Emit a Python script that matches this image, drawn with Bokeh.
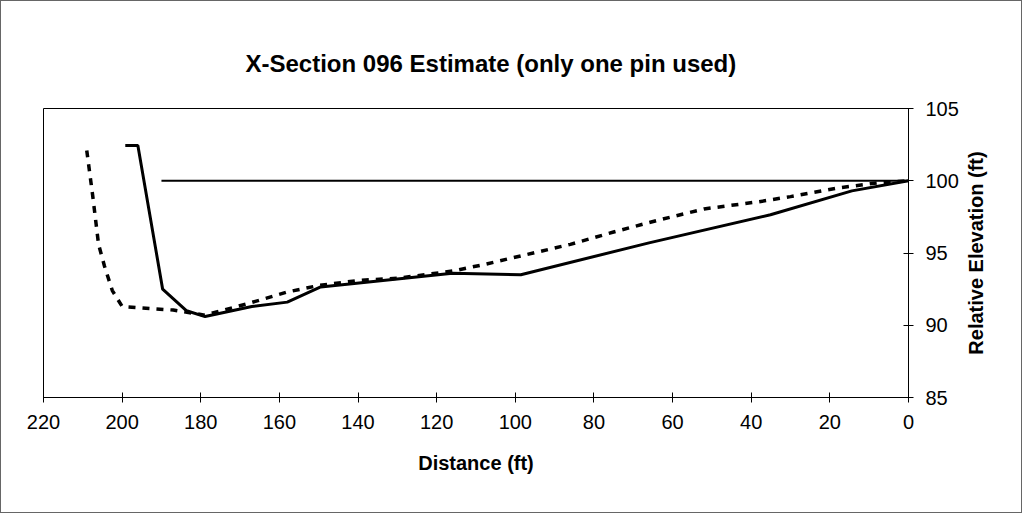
from bokeh.plotting import figure
from bokeh.layouts import row
from bokeh.models import Range1d, FixedTicker
from bokeh.embed import file_html
from bokeh.resources import INLINE

# ---- data ----
solid_dist = [199.2, 196.0, 189.7, 183.6, 178.9, 167.0, 158.0, 149.5, 116.0, 98.6, 66.0, 35.1, 14.4, 0.0]
solid_elev = [102.44, 102.44, 92.5, 91.0, 90.6, 91.3, 91.6, 92.65, 93.6, 93.5, 95.7, 97.65, 99.3, 100.0]

dash_dist = [209.0, 207.5, 206.0, 204.5, 202.5, 200.0, 187.0, 179.0, 168.0, 158.0, 150.0, 140.0,
             130.0, 116.0, 108.0, 97.0, 86.0, 75.0, 64.0, 52.0, 38.0, 30.0, 18.0, 8.0, 0.0]
dash_elev = [102.1, 99.0, 95.6, 94.1, 92.4, 91.3, 91.05, 90.7, 91.5, 92.3, 92.75, 93.1,
             93.25, 93.75, 94.2, 94.9, 95.6, 96.45, 97.25, 98.05, 98.55, 98.9, 99.5, 99.85, 100.0]

ref_dist = [190.0, 0.0]
ref_elev = [100.0, 100.0]

x_ticks = [220, 200, 180, 160, 140, 120, 100, 80, 60, 40, 20, 0]
y_ticks = [85, 90, 95, 100, 105]

title_text = "X-Section 096 Estimate (only one pin used)"
x_label = "Distance (ft)"
y_label = "Relative Elevation (ft)"

FONT = "Liberation Sans"

p = figure(width=960, height=511, output_backend="svg", toolbar_location=None,
           x_range=Range1d(220, 0), y_range=Range1d(85, 105),
           y_axis_location="right",
           min_border_left=42, min_border_right=51, min_border_top=107, min_border_bottom=115)

p.background_fill_color = "white"
p.border_fill_color = "white"
p.outline_line_color = "black"
p.outline_line_width = 1
p.xgrid.visible = False
p.ygrid.visible = False

p.title.text = title_text
p.title.text_font = FONT
p.title.text_font_size = "24px"
p.title.text_font_style = "bold"
p.title.text_color = "black"
p.title.align = "left"
p.title.offset = 202
p.title.standoff = 64

p.line(ref_dist, ref_elev, line_color="black", line_width=2)
p.line(solid_dist, solid_elev, line_color="black", line_width=3)
p.line(dash_dist, dash_elev, line_color="black", line_width=3.5, line_dash="7 7")

for ax in (p.xaxis[0], p.yaxis[0]):
    ax.axis_line_color = "black"
    ax.major_tick_line_color = "black"
    ax.minor_tick_line_color = None
    ax.major_tick_in = 5
    ax.major_tick_out = 5
    ax.major_label_text_font = FONT
    ax.major_label_text_font_size = "20px"
    ax.major_label_text_color = "black"
    ax.axis_label_text_font = FONT
    ax.axis_label_text_font_size = "20px"
    ax.axis_label_text_font_style = "bold"
    ax.axis_label_text_color = "black"

p.xaxis.ticker = FixedTicker(ticks=x_ticks)
p.yaxis.ticker = FixedTicker(ticks=y_ticks)
p.xaxis.major_label_standoff = 12
p.yaxis.major_label_standoff = 12
p.xaxis.axis_label = x_label
p.xaxis.axis_label_standoff = 20

# narrow companion figure that carries the y-axis title, reading bottom-to-top
q = figure(width=60, height=511, output_backend="svg", toolbar_location=None,
           x_range=Range1d(0, 1), y_range=Range1d(85, 105),
           x_axis_location=None, y_axis_location="left",
           min_border_left=0, min_border_right=0, min_border_top=107, min_border_bottom=115)
q.background_fill_color = "white"
q.border_fill_color = "white"
q.outline_line_color = None
q.xgrid.visible = False
q.ygrid.visible = False
q.line([0, 1], [85, 85], line_alpha=0)
ya = q.yaxis[0]
ya.ticker = FixedTicker(ticks=[])
ya.axis_line_color = None
ya.major_tick_line_color = None
ya.minor_tick_line_color = None
ya.major_tick_in = 0
ya.major_tick_out = 0
ya.major_label_standoff = 0
ya.axis_label = y_label
ya.axis_label_standoff = 5
ya.axis_label_text_font = FONT
ya.axis_label_text_font_size = "20px"
ya.axis_label_text_font_style = "bold"
ya.axis_label_text_color = "black"

layout = row(p, q, spacing=0, styles={"border": "1px solid #666", "background": "white"})

open("out.html", "w").write(file_html(layout, INLINE))
